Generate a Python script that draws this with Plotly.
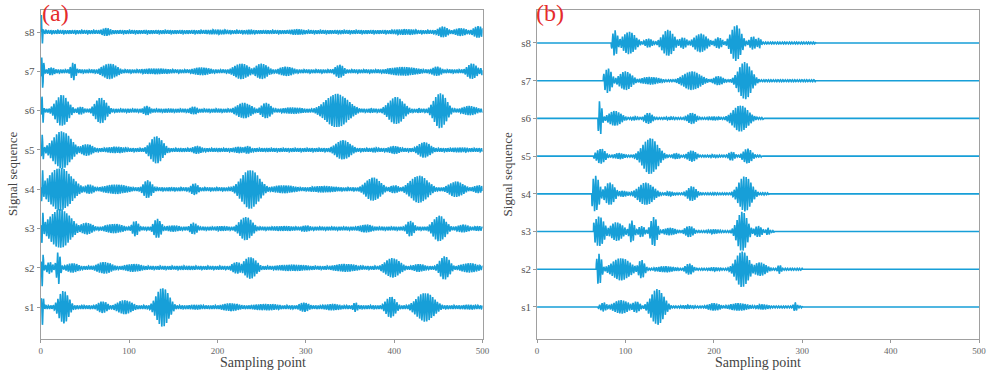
import numpy as np
import plotly.graph_objects as go

# ---------------- data ----------------
signal_labels = ["s1", "s2", "s3", "s4", "s5", "s6", "s7", "s8"]
x_ticks = [0, 100, 200, 300, 400, 500]

# wave packets per signal: (centre sample, half-width in samples, amplitude)
a_s1 = [(2, 1.5, 0.45), (26, 8, 0.42), (70, 8, 0.15), (95, 12, 0.18), (138, 10, 0.5), (175, 15, 0.06),
        (215, 15, 0.1), (255, 25, 0.08), (298, 8, 0.12), (330, 15, 0.08), (356, 4, 0.12), (396, 8, 0.27),
        (435, 14, 0.37), (485, 15, 0.06)]
a_s2 = [(2, 1.5, 0.5), (10, 5, 0.15), (20, 3, 0.42), (36, 10, 0.12), (72, 12, 0.15), (105, 15, 0.1),
        (165, 35, 0.05), (222, 8, 0.15), (237, 10, 0.28), (285, 30, 0.08), (345, 20, 0.1), (398, 12, 0.25),
        (428, 10, 0.1), (457, 8, 0.3), (485, 15, 0.12)]
a_s3 = [(2, 1.5, 0.46), (22, 16, 0.5), (52, 10, 0.15), (83, 15, 0.12), (107, 5, 0.2), (132, 6, 0.25),
        (150, 12, 0.08), (173, 6, 0.15), (205, 15, 0.06), (232, 10, 0.3), (275, 25, 0.06), (300, 8, 0.08),
        (368, 12, 0.1), (418, 6, 0.2), (451, 10, 0.33), (478, 10, 0.1), (495, 8, 0.06)]
a_s4 = [(2, 1.5, 0.5), (22, 18, 0.55), (55, 8, 0.12), (85, 20, 0.12), (121, 7, 0.23), (148, 12, 0.05),
        (174, 6, 0.15), (200, 12, 0.03), (237, 14, 0.5), (275, 20, 0.1), (320, 25, 0.08), (376, 12, 0.3),
        (400, 8, 0.1), (428, 14, 0.35), (470, 12, 0.2), (495, 8, 0.1)]
a_s5 = [(2, 1.5, 0.4), (24, 14, 0.48), (52, 10, 0.15), (85, 18, 0.08), (131, 10, 0.35), (158, 6, 0.05),
        (177, 8, 0.1), (200, 8, 0.05), (224, 10, 0.08), (234, 6, 0.1), (255, 6, 0.05), (297, 30, 0.04),
        (342, 12, 0.25), (378, 8, 0.06), (400, 10, 0.1), (434, 10, 0.2), (475, 20, 0.06)]
a_s6 = [(2, 1.5, 0.4), (24, 10, 0.4), (45, 6, 0.1), (68, 9, 0.33), (98, 12, 0.05), (120, 6, 0.12),
        (145, 15, 0.05), (173, 7, 0.1), (200, 12, 0.05), (230, 12, 0.2), (255, 8, 0.2), (285, 20, 0.08),
        (335, 18, 0.43), (374, 6, 0.06), (402, 12, 0.35), (428, 5, 0.06), (452, 10, 0.45), (485, 12, 0.12)]
a_s7 = [(2, 2, 0.45), (12, 6, 0.1), (37, 4, 0.23), (78, 12, 0.2), (130, 30, 0.07), (182, 15, 0.1),
        (227, 12, 0.2), (250, 10, 0.2), (278, 12, 0.12), (338, 7, 0.17), (364, 12, 0.04), (410, 25, 0.11),
        (448, 8, 0.12), (488, 8, 0.2), (500, 5, 0.1)]
a_s8 = [(1, 1.5, 0.45), (74, 8, 0.1), (120, 8, 0.05), (200, 30, 0.06), (236, 10, 0.06), (290, 15, 0.07),
        (340, 10, 0.05), (412, 25, 0.07), (455, 8, 0.14), (475, 10, 0.1), (495, 8, 0.15)]

b_s1 = [(75, 5, 0.12), (95, 12, 0.18), (112, 6, 0.15), (136, 10, 0.48), (170, 12, 0.05), (200, 10, 0.1),
        (228, 15, 0.1), (255, 10, 0.07), (292, 3, 0.12)]
b_s2 = [(70, 4, 0.42), (95, 14, 0.3), (118, 5, 0.25), (145, 15, 0.08), (172, 6, 0.15), (200, 10, 0.05),
        (232, 10, 0.48), (252, 10, 0.18), (274, 3, 0.12), (290, 10, 0.02)]
b_s3 = [(70, 8, 0.4), (90, 10, 0.25), (107, 4, 0.3), (118, 5, 0.15), (132, 5, 0.4), (150, 10, 0.1),
        (172, 7, 0.15), (200, 10, 0.06), (232, 8, 0.53), (250, 6, 0.15), (261, 3, 0.1)]
b_s4 = [(66, 6, 0.48), (82, 8, 0.3), (97, 8, 0.08), (123, 12, 0.3), (150, 8, 0.06), (175, 7, 0.2),
        (200, 10, 0.03), (235, 10, 0.47), (256, 5, 0.03)]
b_s5 = [(72, 7, 0.2), (93, 8, 0.08), (128, 12, 0.48), (157, 6, 0.08), (175, 7, 0.15), (200, 10, 0.04),
        (220, 5, 0.12), (238, 7, 0.2)]
b_s6 = [(71, 3, 0.47), (88, 10, 0.2), (110, 6, 0.05), (126, 6, 0.15), (150, 10, 0.04), (175, 7, 0.15),
        (200, 10, 0.05), (230, 12, 0.35)]
b_s7 = [(80, 6, 0.33), (100, 10, 0.25), (128, 15, 0.1), (175, 14, 0.25), (205, 8, 0.12), (235, 10, 0.5),
        (280, 30, 0.015)]
b_s8 = [(88, 4, 0.35), (104, 10, 0.3), (126, 6, 0.12), (148, 9, 0.35), (165, 6, 0.15), (185, 10, 0.25),
        (205, 6, 0.15), (225, 8, 0.48), (244, 5, 0.18), (251, 3, 0.15), (285, 30, 0.015)]

# start / end of the non-zero part of each signal in panel (b)
b_onset = [69, 67, 64, 62, 64, 69, 75, 84]
b_end = [300, 300, 268, 262, 254, 256, 315, 315]

panel_a = [a_s1, a_s2, a_s3, a_s4, a_s5, a_s6, a_s7, a_s8]
panel_b = [b_s1, b_s2, b_s3, b_s4, b_s5, b_s6, b_s7, b_s8]

# ---------------- synthesis ----------------
t = np.arange(0, 500.001, 0.25)
PERIOD = 2.7


def synth(packets, phase, floor=0.0, onset=None, end=None):
    env = np.full_like(t, floor)
    for c, w, a in packets:
        env = np.maximum(env, a * np.exp(-((t - c) / w) ** 2))
    if onset is not None:
        env[(t < onset) | (t > end)] = 0.0
    return env * np.sin(2 * np.pi * t / PERIOD + phase)


LINE = "#179fd8"
FONT = "Liberation Serif"

fig = go.Figure()
for i, pk in enumerate(panel_a):
    y = synth(pk, 0.9 * i, floor=0.045) + (i + 1)
    fig.add_trace(go.Scatter(x=t, y=y, mode="lines", line=dict(color=LINE, width=1.6),
                             xaxis="x", yaxis="y", showlegend=False, hoverinfo="skip"))
for i, pk in enumerate(panel_b):
    y = synth(pk, 1.3 * i + 0.5, floor=0.025, onset=b_onset[i], end=b_end[i]) + (i + 1)
    fig.add_trace(go.Scatter(x=t, y=y, mode="lines", line=dict(color=LINE, width=1.6),
                             xaxis="x2", yaxis="y2", showlegend=False, hoverinfo="skip"))

xcommon = dict(range=[0, 500], tickvals=x_ticks, ticks="outside", ticklen=3, tickcolor="#999",
               tickfont=dict(family=FONT, size=9, color="#666"), showline=True, linecolor="#a0a0a0",
               linewidth=1, mirror=True, showgrid=False, zeroline=False)
ycommon = dict(tickvals=list(range(1, 9)), ticktext=signal_labels, ticks="outside", ticklen=3,
               tickcolor="#999", tickfont=dict(family=FONT, size=11, color="#555"), showline=True,
               linecolor="#a0a0a0", linewidth=1, mirror=True, showgrid=False, zeroline=False)

ydom = [1 - 339 / 374, 1 - 10 / 374]
fig.update_layout(
    width=996, height=374, autosize=False, margin=dict(l=0, r=0, t=0, b=0),
    paper_bgcolor="white", plot_bgcolor="white",
    xaxis=dict(domain=[39 / 996, 485 / 996], anchor="y", **xcommon),
    yaxis=dict(domain=ydom, range=[0.19, 8.56], anchor="x", **ycommon),
    xaxis2=dict(domain=[540 / 996, 986 / 996], anchor="y2", **xcommon),
    yaxis2=dict(domain=ydom, range=[0.15, 8.875], anchor="x2", **ycommon),
)

ann = []
for xc in [263, 763]:
    ann.append(dict(x=xc / 996, y=1 - 362 / 374, xref="paper", yref="paper", text="Sampling point",
                    showarrow=False, font=dict(family=FONT, size=14, color="#444"),
                    xanchor="center", yanchor="middle"))
for xc in [10, 510]:
    ann.append(dict(x=xc / 996, y=1 - 174 / 374, xref="paper", yref="paper", text="Signal sequence",
                    textangle=-90, showarrow=False, font=dict(family=FONT, size=13, color="#444"),
                    xanchor="center", yanchor="middle"))
for xc, lab in [(54, "(a)"), (553, "(b)")]:
    ann.append(dict(x=xc / 996, y=1 - 13 / 374, xref="paper", yref="paper", text=lab,
                    showarrow=False, font=dict(family=FONT, size=24, color="#e52b2b"),
                    xanchor="center", yanchor="middle"))
fig.update_layout(annotations=ann)

fig.write_html(
    "out.html",
    config={"responsive": False, "displayModeBar": False},
    post_script="document.body.style.margin='0';document.body.style.overflow='hidden';",
)
